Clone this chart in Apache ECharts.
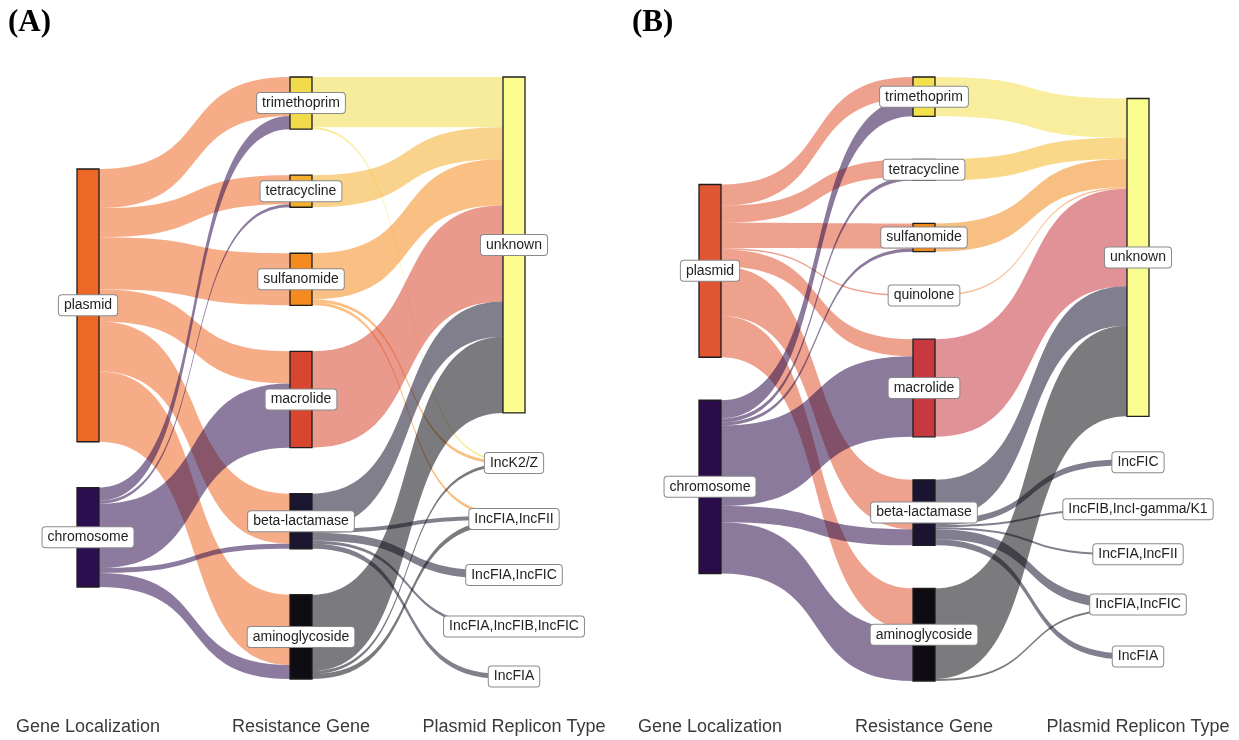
<!DOCTYPE html>
<html><head><meta charset="utf-8">
<script src="https://cdn.jsdelivr.net/npm/echarts@6/dist/echarts.min.js"></script>
<style>html,body{margin:0;padding:0;background:#fff}#c{width:1239px;height:740px}</style>
</head><body><div id="c"></div>
<script>
// ---------- data ----------
const stageLabels = ['Gene Localization', 'Resistance Gene', 'Plasmid Replicon Type'];
const panelTags = ['(A)', '(B)'];

// Panel A
const localizationA = ['plasmid', 'chromosome'];
const genesA = ['trimethoprim', 'tetracycline', 'sulfanomide', 'macrolide', 'beta-lactamase', 'aminoglycoside'];
const repliconsA = ['unknown', 'IncK2/Z', 'IncFIA,IncFII', 'IncFIA,IncFIC', 'IncFIA,IncFIB,IncFIC', 'IncFIA'];
const plasmidToGeneA = [39, 29, 52, 32, 50, 70];
const chromosomeToGeneA = [13, 3, 0, 64, 5, 14];
// rows: genesA, columns: repliconsA
const geneToRepliconA = [
  [50, 2, 0, 0, 0, 0],
  [32, 0, 0, 0, 0, 0],
  [46, 3, 3, 0, 0, 0],
  [96, 0, 0, 0, 0, 0],
  [35, 0, 4, 8, 3, 5],
  [76, 3, 5, 0, 0, 0]
];

// Panel B
const localizationB = ['plasmid', 'chromosome'];
const genesB = ['trimethoprim', 'tetracycline', 'sulfanomide', 'quinolone', 'macrolide', 'beta-lactamase', 'aminoglycoside'];
const repliconsB = ['unknown', 'IncFIC', 'IncFIB,IncI-gamma/K1', 'IncFIA,IncFII', 'IncFIA,IncFIC', 'IncFIA'];
const plasmidToGeneB = [21, 17, 25, 1.5, 17, 49, 41];
const chromosomeToGeneB = [18, 4, 3, 0, 80, 16, 51];
const geneToRepliconB = [
  [39, 0, 0, 0, 0, 0],
  [21, 0, 0, 0, 0, 0],
  [28, 0, 0, 0, 0, 0],
  [1.5, 0, 0, 0, 0, 0],
  [97, 0, 0, 0, 0, 0],
  [39, 6, 2, 2, 10, 6],
  [90, 0, 0, 0, 2, 0]
];

// ---------- styles ----------
const colorsA = {
  'plasmid': '#EC6824', 'chromosome': '#2D0E50',
  'trimethoprim': '#F1DB4A', 'tetracycline': '#F4AF2C', 'sulfanomide': '#F58A1E',
  'macrolide': '#D9462F', 'beta-lactamase': '#1B1530', 'aminoglycoside': '#0F0D14',
  'unknown': '#FBFC8D', 'IncK2/Z': '#5a4a6a', 'IncFIA,IncFII': '#5a4a6a', 'IncFIA,IncFIC': '#5a4a6a',
  'IncFIA,IncFIB,IncFIC': '#5a4a6a', 'IncFIA': '#5a4a6a'
};
const colorsB = {
  'plasmid': '#E05532', 'chromosome': '#2B0C4A',
  'trimethoprim': '#F2E04C', 'tetracycline': '#F4B82A', 'sulfanomide': '#F18A1B', 'quinolone': '#F5873A',
  'macrolide': '#C8393F', 'beta-lactamase': '#1A1430', 'aminoglycoside': '#0E0C12',
  'unknown': '#FBFC8F', 'IncFIC': '#5a4a6a', 'IncFIB,IncI-gamma/K1': '#5a4a6a', 'IncFIA,IncFII': '#5a4a6a',
  'IncFIA,IncFIC': '#5a4a6a', 'IncFIA': '#5a4a6a'
};

function makePanel(p) {
  const cols = [p.localization, p.genes, p.replicons];
  const links = [];
  const rows = [p.plasmidToGene, p.chromosomeToGene];
  p.localization.forEach((src, i) => rows[i].forEach((v, j) => {
    if (v > 0) links.push({ source: src, target: p.genes[j], value: v });
  }));
  p.geneToReplicon.forEach((row, i) => row.forEach((v, j) => {
    if (v > 0) links.push({ source: p.genes[i], target: p.replicons[j], value: v });
  }));
  const inSum = {}, outSum = {};
  links.forEach(l => {
    outSum[l.source] = (outSum[l.source] || 0) + l.value;
    inSum[l.target] = (inSum[l.target] || 0) + l.value;
  });
  const val = n => Math.max(inSum[n] || 0, outSum[n] || 0);
  const H = p.height, gap = p.gap;
  // same scale the library uses for node heights
  const ky = Math.min(...cols.map(c => (H - (c.length - 1) * gap) / c.reduce((s, n) => s + val(n), 0)));
  const nodes = [];
  cols.forEach((c, depth) => {
    const extent = c.reduce((s, n) => s + val(n), 0) * ky + (c.length - 1) * gap;
    let y = (H - extent) / 2;   // each column stacked and centred
    c.forEach(n => {
      nodes.push({ name: n, depth: depth, localY: y / H, itemStyle: { color: p.colors[n] } });
      y += val(n) * ky + gap;
    });
  });
  return {
    type: 'sankey',
    left: p.left, top: p.top, width: p.width, height: H,
    nodeWidth: p.nodeWidth, nodeGap: gap,
    layoutIterations: 0, nodeAlign: 'justify', draggable: false,
    emphasis: { disabled: true },
    data: nodes, links: links,
    itemStyle: { borderColor: '#1e1e1e', borderWidth: 1.3 },
    lineStyle: { color: 'source', opacity: 0.55, curveness: 0.62 },
    label: {
      show: true, position: 'inside', color: '#222', fontSize: 14, lineHeight: 16,
      fontFamily: 'Liberation Sans, Arial, sans-serif',
      backgroundColor: '#fff', borderColor: '#8a8a8a', borderWidth: 1, borderRadius: 3,
      padding: [2, 5]
    }
  };
}

const panels = [
  { localization: localizationA, genes: genesA, replicons: repliconsA, plasmidToGene: plasmidToGeneA,
    chromosomeToGene: chromosomeToGeneA, geneToReplicon: geneToRepliconA, colors: colorsA,
    left: 77, top: 77, width: 448, height: 602, gap: 46, nodeWidth: 22, tagX: 8 },
  { localization: localizationB, genes: genesB, replicons: repliconsB, plasmidToGene: plasmidToGeneB,
    chromosomeToGene: chromosomeToGeneB, geneToReplicon: geneToRepliconB, colors: colorsB,
    left: 699, top: 77, width: 450, height: 604, gap: 43, nodeWidth: 22, tagX: 632 }
];

const graphics = [];
panels.forEach((p, k) => {
  graphics.push({
    type: 'text', x: p.tagX, y: 23,
    style: { text: panelTags[k], fill: '#000', font: 'bold 31px "Liberation Serif", "Times New Roman", serif',
      textAlign: 'left', textVerticalAlign: 'middle', align: 'left', verticalAlign: 'middle' }
  });
  stageLabels.forEach((s, c) => {
    graphics.push({
      type: 'text', x: p.left + p.nodeWidth / 2 + c * (p.width - p.nodeWidth) / 2, y: 727,
      style: { text: s, fill: '#3a3a3a', font: '18px "Liberation Sans", Arial, sans-serif',
        textAlign: 'center', textVerticalAlign: 'middle', align: 'center', verticalAlign: 'middle' }
    });
  });
});

const chart = echarts.init(document.getElementById('c'), null, { renderer: 'canvas' });
chart.setOption({
  animation: false,
  backgroundColor: '#fff',
  series: panels.map(makePanel),
  graphic: graphics
});
</script>
</body></html>
